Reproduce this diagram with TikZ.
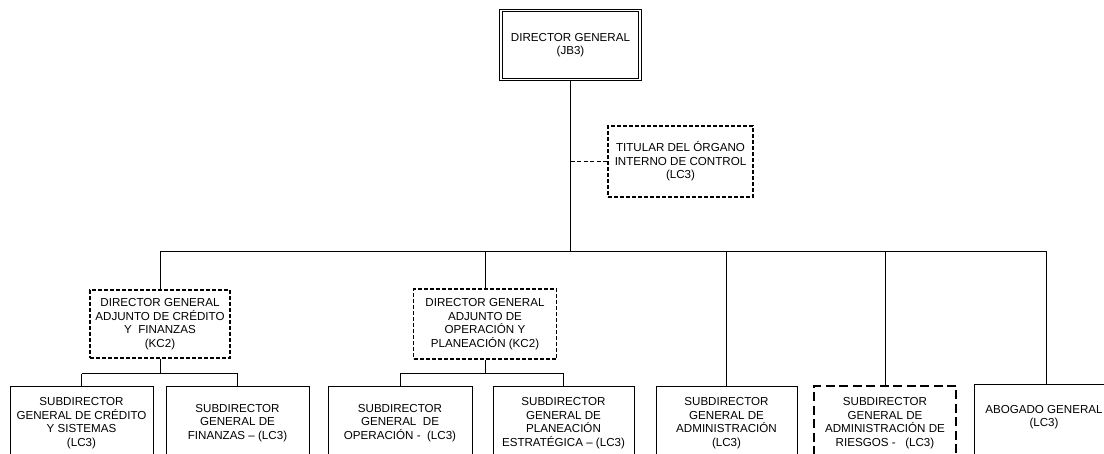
\documentclass[tikz,border=0pt]{standalone}
\usepackage{fontspec}
\setmainfont{Liberation Sans}
\usetikzlibrary{calc}
\begin{document}
\begin{tikzpicture}[x=1pt,y=-1pt,
  every node/.style={font=\fontsize{11.6}{13.6}\selectfont, align=center, inner sep=0pt},
  box/.style={draw, line width=0.8pt, fill=white},
  dbox/.style={draw, line width=1.5pt, dash pattern=on 4pt off 2pt, fill=white},
  ddbox/.style={draw, line width=1.8pt, dash pattern=on 9pt off 4.5pt, fill=white},
  conn/.style={draw, line width=0.8pt},
  thickconn/.style={draw, line width=1.6pt},
  dashconn/.style={draw, line width=0.9pt, dash pattern=on 4pt off 2.5pt}]
\clip (0,0) rectangle (1104,454);
\fill[white] (0,0) rectangle (1104,454);
% top
\node[box, double, double distance=1.6pt, minimum width=139pt, minimum height=69pt] (dg) at (570.5,45) {DIRECTOR GENERAL\\(JB3)};
\node[dbox, minimum width=145pt, minimum height=71pt] (toc) at (680.5,161.5) {TITULAR DEL ÓRGANO\\INTERNO DE CONTROL\\(LC3)};
% second level
\node[dbox, minimum width=140pt, minimum height=68pt] (dga1) at (160,324) {DIRECTOR GENERAL\\ADJUNTO DE CRÉDITO\\Y\ \ FINANZAS\\(KC2)};
\node[dbox, minimum width=143pt, minimum height=70pt] (dga2) at (485,324) {DIRECTOR GENERAL\\ADJUNTO DE\\OPERACIÓN Y\\PLANEACIÓN (KC2)};
% bottom
\node[box, minimum width=143pt, minimum height=74pt] (b1) at (81.5,423) {SUBDIRECTOR\\GENERAL DE CRÉDITO\\Y SISTEMAS\\(LC3)};
\node[box, minimum width=143pt, minimum height=74pt] (b2) at (237.5,423) {SUBDIRECTOR\\GENERAL DE\\FINANZAS – (LC3)};
\node[box, minimum width=144pt, minimum height=74pt] (b3) at (400,423) {SUBDIRECTOR\\GENERAL\ \ DE\\OPERACIÓN -\ \ (LC3)};
\node[box, minimum width=141pt, minimum height=74pt] (b4) at (563.5,423) {SUBDIRECTOR\\GENERAL DE\\PLANEACIÓN\\ESTRATÉGICA – (LC3)};
\node[box, minimum width=141pt, minimum height=74pt] (b5) at (726.5,423) {SUBDIRECTOR\\GENERAL DE\\ADMINISTRACIÓN\\(LC3)};
\node[ddbox, minimum width=142pt, minimum height=74pt] (b6) at (885,423) {SUBDIRECTOR\\GENERAL DE\\ADMINISTRACIÓN DE\\RIESGOS -\ \ \ (LC3)};
\node[box, minimum width=144pt, minimum height=78pt] (b7) at (1046,423) {};
\node (b7t) at ($(b7.center)+(-2,-6)$) {ABOGADO GENERAL\\(LC3)};
% connectors
\coordinate (barL) at (160,251.5);
\coordinate (barR) at (1046,251.5);
\draw[conn] (dg.south) -- (dg.south |- barL) coordinate (hub);
\draw[dashconn] (dg.south |- toc.west) -- (toc.west);
\draw[conn] (barL) -- (barR);
\draw[thickconn] (hub) -- (hub -| b5.north);
\draw[conn] (barL) -- (dga1.north);
\draw[conn] (dga2.north |- barL) -- (dga2.north);
\draw[conn] (b5.north |- barL) -- (b5.north);
\draw[conn] (b6.north |- barL) -- (b6.north);
\draw[conn] (barR) -- (b7.north);
% group 1
\draw[conn] (dga1.south) -- ++(0,15) coordinate (j1);
\draw[conn] (j1 -| b1.north) -- (j1 -| b2.north);
\draw[conn] (j1 -| b1.north) -- (b1.north);
\draw[conn] (j1 -| b2.north) -- (b2.north);
% group 2
\draw[conn] (dga2.south) -- ++(0,14) coordinate (j2);
\draw[conn] (j2 -| b3.north) -- (j2 -| b4.north);
\draw[conn] (j2 -| b3.north) -- (b3.north);
\draw[conn] (j2 -| b4.north) -- (b4.north);
\end{tikzpicture}
\end{document}
